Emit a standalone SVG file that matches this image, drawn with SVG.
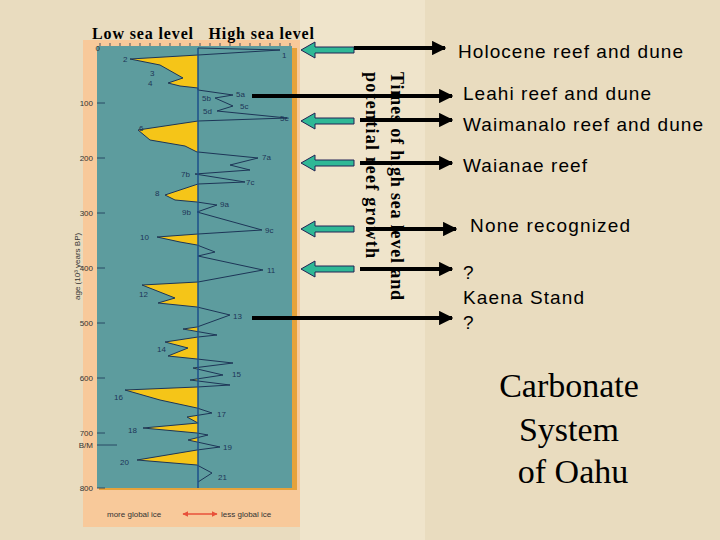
<svg xmlns="http://www.w3.org/2000/svg" width="720" height="540" viewBox="0 0 720 540">
<defs>
<style>
.ax{font-family:"Liberation Sans",Arial,sans-serif;font-size:8px;fill:#333}
.pk{font-family:"Liberation Sans",Arial,sans-serif;font-size:8px;fill:#1d3557}
.r{font-family:"Liberation Sans",Arial,sans-serif;font-size:19px;fill:#000}
.t{font-family:"Liberation Serif","Times New Roman",serif;fill:#000}
.blk{stroke:#000;stroke-width:4;fill:none}
.grn{fill:#2fb896;stroke:#225;stroke-width:1}
</style>
<marker id="ah" viewBox="0 0 10 10" refX="9" refY="5" markerWidth="3.6" markerHeight="3.6" orient="auto" markerUnits="strokeWidth"><path d="M0,0L10,5L0,10z" fill="#000"/></marker>
<marker id="rh" viewBox="0 0 10 10" refX="9" refY="5" markerWidth="4" markerHeight="4" orient="auto-start-reverse"><path d="M0,0L10,5L0,10z" fill="#e8503a"/></marker>
<clipPath id="lh"><rect x="97" y="48" width="101" height="440"/></clipPath>
</defs>
<rect width="720" height="540" fill="#e9dcbf"/>
<rect x="300" y="0" width="125" height="540" fill="#efe4cb"/>
<rect x="83" y="40" width="217" height="487" fill="#f8c99a"/>
<g id="chart">
<rect x="99" y="48" width="198" height="442" fill="#e6a23a"/>
<rect x="97" y="46" width="195" height="442" fill="#5d9c9e"/>
<g stroke="#1d3557" stroke-width="0.8">
<path d="M100,46v-3M110,46v-3M120,46v-3M130,46v-3M140,46v-3M150,46v-3M160,46v-3M170,46v-3M180,46v-3M190,46v-3M200,46v-3M210,46v-3M220,46v-3M230,46v-3M240,46v-3M250,46v-3M260,46v-3M270,46v-3M280,46v-3M290,46v-3"/>
<path d="M97,103h8M97,158h8M97,213h8M97,268h8M97,323h8M97,378h8M97,433h8M97,445h20M97,488h8"/>
</g>
<polygon clip-path="url(#lh)" fill="#f5c518" points="198,48 280,50 198,55 130,59 160,65 183,78 168,83 180,86 198,88 198,90 233,95 215,98 233,106 217,111 287,118 198,121 138,130 150,140 185,146 197,152 198,152 258,158 230,165 250,170 195,174 245,182 198,184 165,195 175,200 197,202 217,205 197,212 262,230 198,234 157,237 180,242 197,245 215,252 198,256 263,270 198,282 142,285 175,298 158,303 197,307 230,315 197,327 183,329 217,335 198,337 165,342 188,348 168,356 197,359 233,363 193,368 223,375 190,380 230,385 197,387 125,390 160,400 197,408 212,413 187,417 198,423 143,428 197,433 208,435 188,440 220,447 197,450 137,460 197,465 212,473 198,482 198,482"/>
<polyline fill="none" stroke="#1d3557" stroke-width="1" points="198,48 280,50 198,55 130,59 160,65 183,78 168,83 180,86 198,88 198,90 233,95 215,98 233,106 217,111 287,118 198,121 138,130 150,140 185,146 197,152 198,152 258,158 230,165 250,170 195,174 245,182 198,184 165,195 175,200 197,202 217,205 197,212 262,230 198,234 157,237 180,242 197,245 215,252 198,256 263,270 198,282 142,285 175,298 158,303 197,307 230,315 197,327 183,329 217,335 198,337 165,342 188,348 168,356 197,359 233,363 193,368 223,375 190,380 230,385 197,387 125,390 160,400 197,408 212,413 187,417 198,423 143,428 197,433 208,435 188,440 220,447 197,450 137,460 197,465 212,473 198,482"/>
<line x1="198" y1="48" x2="198" y2="488" stroke="#1d4f8a" stroke-width="1.5"/>
<g class="pk">
<text x="282" y="58">1</text><text x="123" y="62">2</text><text x="150" y="76">3</text><text x="148" y="86">4</text>
<text x="236" y="97">5a</text><text x="202" y="101">5b</text><text x="240" y="109">5c</text><text x="203" y="114">5d</text><text x="280" y="121">5e</text>
<text x="139" y="131">6</text><text x="262" y="160">7a</text><text x="181" y="177">7b</text><text x="246" y="185">7c</text>
<text x="155" y="196">8</text><text x="220" y="207">9a</text><text x="182" y="215">9b</text><text x="265" y="233">9c</text>
<text x="140" y="240">10</text><text x="267" y="273">11</text><text x="139" y="297">12</text><text x="233" y="319">13</text>
<text x="157" y="352">14</text><text x="232" y="377">15</text><text x="114" y="400">16</text><text x="217" y="417">17</text>
<text x="128" y="433">18</text><text x="223" y="450">19</text><text x="120" y="465">20</text><text x="218" y="480">21</text>
</g>
<g class="ax" text-anchor="end">
<text x="100" y="51">0</text><text x="93" y="106">100</text><text x="93" y="161">200</text><text x="93" y="216">300</text>
<text x="93" y="271">400</text><text x="93" y="326">500</text><text x="93" y="381">600</text><text x="93" y="436">700</text>
<text x="93" y="448">B/M</text><text x="93" y="491">800</text>
</g>
<text class="ax" font-size="6.5" transform="translate(80,300) rotate(-90)">age (10³ years BP)</text>
<text class="ax" x="107" y="517" font-size="7.5">more global ice</text>
<text class="ax" x="221" y="517" font-size="7.5">less global ice</text>
<line x1="183" y1="514" x2="217" y2="514" stroke="#e8503a" stroke-width="1.5" marker-start="url(#rh)" marker-end="url(#rh)"/>
</g>
<text class="t" x="92" y="39" font-size="16" font-weight="bold" textLength="222" xml:space="preserve">Low sea level   High sea level</text>
<g id="greenarrows">
<path class="grn" d="M301,50l14,-8v5h39v6h-39v5z"/>
<path class="grn" d="M301,121l14,-8v5h39v6h-39v5z"/>
<path class="grn" d="M301,163l14,-8v5h39v6h-39v5z"/>
<path class="grn" d="M301,229l14,-8v5h39v6h-39v5z"/>
<path class="grn" d="M301,269l14,-8v5h39v6h-39v5z"/>
</g>
<g id="connectors">
<line class="blk" x1="354" y1="48" x2="445" y2="48" marker-end="url(#ah)"/>
<line class="blk" x1="252" y1="96" x2="452" y2="96" marker-end="url(#ah)"/>
<line class="blk" x1="360" y1="120" x2="452" y2="120" marker-end="url(#ah)"/>
<line class="blk" x1="360" y1="163" x2="452" y2="163" marker-end="url(#ah)"/>
<line class="blk" x1="366" y1="229" x2="456" y2="229" marker-end="url(#ah)"/>
<line class="blk" x1="360" y1="269" x2="452" y2="269" marker-end="url(#ah)"/>
<line class="blk" x1="252" y1="318" x2="452" y2="318" marker-end="url(#ah)"/>
</g>
<g class="t" font-size="18" font-weight="bold">
<text transform="translate(391,72) rotate(90)" textLength="228">Times of high sea level and</text>
<text transform="translate(366,72) rotate(90)" textLength="186">potential reef growth</text>
</g>
<g id="labels" class="r">
<text x="458" y="58" textLength="225">Holocene reef and dune</text>
<text x="463" y="100" textLength="188">Leahi reef and dune</text>
<text x="463" y="131" textLength="240">Waimanalo reef and dune</text>
<text x="463" y="172" textLength="124">Waianae reef</text>
<text x="470" y="232" textLength="160">None recognized</text>
<text x="463" y="279">?</text>
<text x="463" y="304" textLength="121">Kaena Stand</text>
<text x="463" y="329">?</text>
</g>
<g class="t" font-size="34" text-anchor="middle">
<text x="569" y="397">Carbonate</text>
<text x="569" y="441">System</text>
<text x="573" y="483">of Oahu</text>
</g>
</svg>
